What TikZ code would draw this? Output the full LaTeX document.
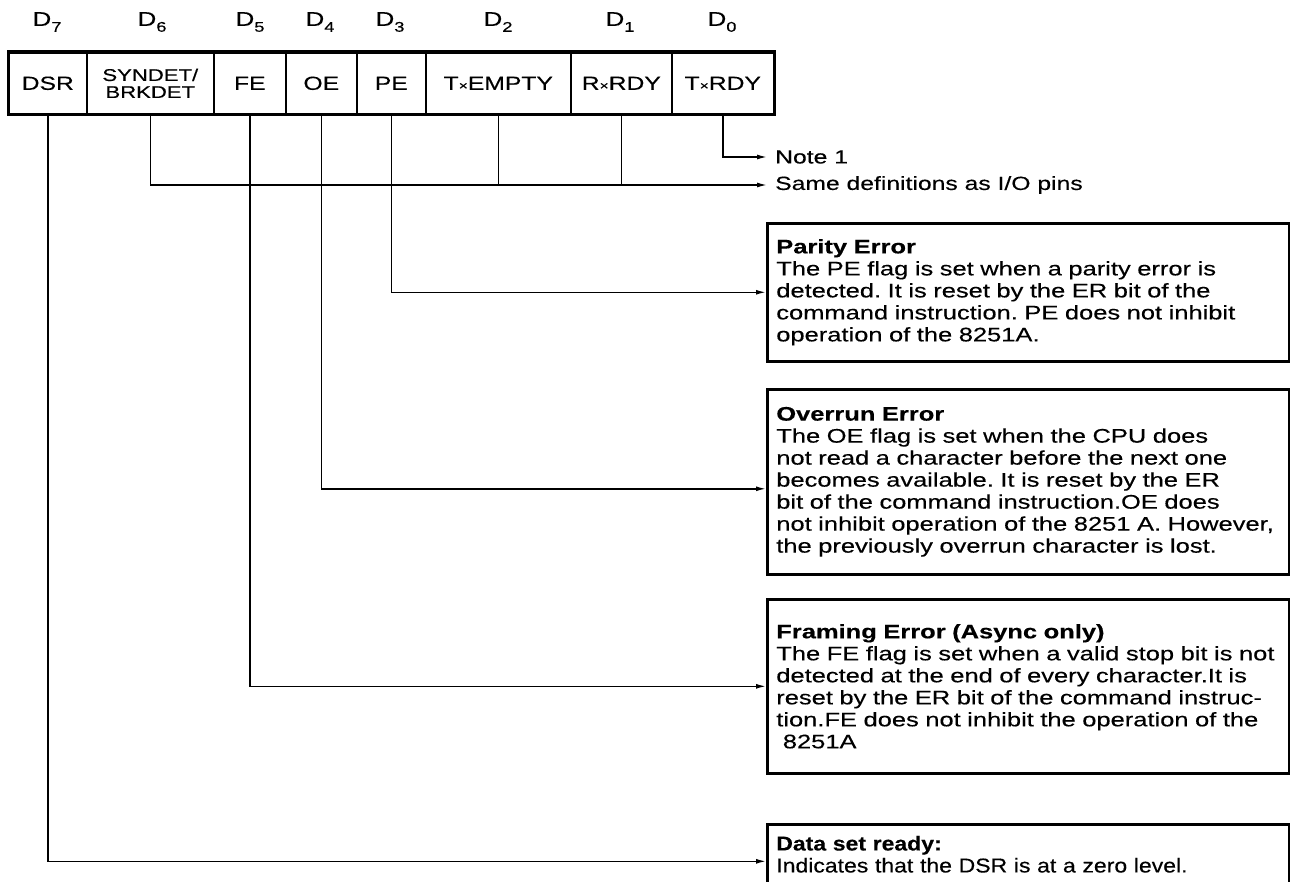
\documentclass[tikz,border=0pt]{standalone}
\usepackage{fontspec}
\setmainfont{Liberation Sans}
\newfontfamily\boxfont[FakeStretch=1.3,FakeBold=0.3]{Liberation Sans}
\newfontfamily\dsrfont[FakeStretch=1.15,FakeBold=0.3]{Liberation Sans}
\usetikzlibrary{arrows.meta}
\frenchspacing
\newcommand\Dsub[1]{D\raisebox{-0.55ex}{\fontsize{14}{14}\selectfont #1}}
\newcommand\tl[1]{\mbox{#1}}
\tikzset{
  cell/.style={draw, line width=1.6pt, minimum height=61pt, anchor=north west, inner sep=0pt,
    font=\boxfont\fontsize{19}{19}\selectfont, align=center},
  smallcell/.style={cell, font=\boxfont\fontsize{17}{17}\selectfont},
  conn/.style={line width=1.5pt, -{Latex[length=10pt,width=5pt]}},
  wire/.style={line width=1.5pt},
  infobox/.style={draw, line width=2.6pt, anchor=north west, minimum width=522pt, text width=504pt,
    align=left, inner xsep=9pt, font=\boxfont\fontsize{19.6}{22}\selectfont},
  lbl/.style={anchor=west, inner xsep=8pt, inner ysep=0pt, font=\boxfont\fontsize{19}{19}\selectfont},
  hdr/.style={font=\boxfont\fontsize{20}{20}\selectfont}
}
\begin{document}
\begin{tikzpicture}[x=1pt,y=-1pt]
\useasboundingbox (0,0) rectangle (1290,882);
\clip (0,0) rectangle (1290,882);
% header labels
\node[hdr] (h7) at (47,22) {\Dsub{7}};
\node[hdr] (h6) at (152,22) {\Dsub{6}};
\node[hdr] (h5) at (250,22) {\Dsub{5}};
\node[hdr] (h4) at (320,22) {\Dsub{4}};
\node[hdr] (h3) at (390,22) {\Dsub{3}};
\node[hdr] (h2) at (498,22) {\Dsub{2}};
\node[hdr] (h1) at (620,22) {\Dsub{1}};
\node[hdr] (h0) at (722,22) {\Dsub{0}};
% register cells
\node[cell, minimum width=78pt] (dsr) at (8,52) {DSR};
\node[smallcell, minimum width=127pt] (syn) at (86,52) {SYNDET/\\BRKDET};
\node[cell, minimum width=72pt] (fe) at (213,52) {FE};
\node[cell, minimum width=71pt] (oe) at (285,52) {OE};
\node[cell, minimum width=69pt] (pe) at (356,52) {PE};
\node[cell, minimum width=145pt] (txe) at (425,52) {T{\fontsize{12}{12}\selectfont ×}EMPTY};
\node[cell, minimum width=101pt] (rxr) at (570,52) {R{\fontsize{12}{12}\selectfont ×}RDY};
\node[cell, minimum width=102pt] (txr) at (671,52) {T{\fontsize{12}{12}\selectfont ×}RDY};
\draw[line width=3pt] (dsr.north west) rectangle (txr.south east);
% text labels
\node[lbl] (note) at (767,157) {Note 1};
\node[lbl] (same) at (767,185) {Same definitions as I/O pins};
% description boxes
\node[infobox, minimum height=138pt] (pebox) at (766,222)
 {\tl{\textbf{Parity Error}}\\
  \tl{The PE flag is set when a parity error is}\\
  \tl{detected. It is reset by the ER bit of the}\\
  \tl{command instruction. PE does not inhibit}\\
  \tl{operation of the 8251A.}};
\node[infobox, minimum height=185pt] (oebox) at (766,388)
 {\tl{\textbf{Overrun Error}}\\
  \tl{The OE flag is set when the CPU does}\\
  \tl{not read a character before the next one}\\
  \tl{becomes available. It is reset by the ER}\\
  \tl{bit of the command instruction.OE does}\\
  \tl{not inhibit operation of the 8251 A. However,}\\
  \tl{the previously overrun character is lost.}};
\node[infobox, minimum height=174pt] (febox) at (766,598)
 {\tl{\textbf{Framing Error (Async only)}}\\
  \tl{The FE flag is set when a valid stop bit is not}\\
  \tl{detected at the end of every character.It is}\\
  \tl{reset by the ER bit of the command instruc-}\\
  \tl{tion.FE does not inhibit the operation of the}\\
  \tl{\ 8251A}};
\node[infobox, minimum height=60pt, font=\dsrfont\fontsize{20}{22}\selectfont] (dsrbox) at (766,823)
 {\tl{\textbf{Data set ready:}}\\
  \tl{Indicates that the DSR is at a zero level.}};
% connectors
\draw[conn] (txr.south) |- (note.west);
\draw[conn] (syn.south) |- (same.west);
\draw[wire] (txe.south) -- (txe.south |- same.west);
\draw[wire] (rxr.south) -- (rxr.south |- same.west);
\draw[conn] (pe.south) |- (pebox.west);
\draw[conn] (oe.south) |- ([yshift=-7pt]oebox.west);
\draw[conn] (fe.south) |- (febox.west);
\draw[conn] (dsr.south) |- ([yshift=-7pt]dsrbox.west);
\end{tikzpicture}
\end{document}
